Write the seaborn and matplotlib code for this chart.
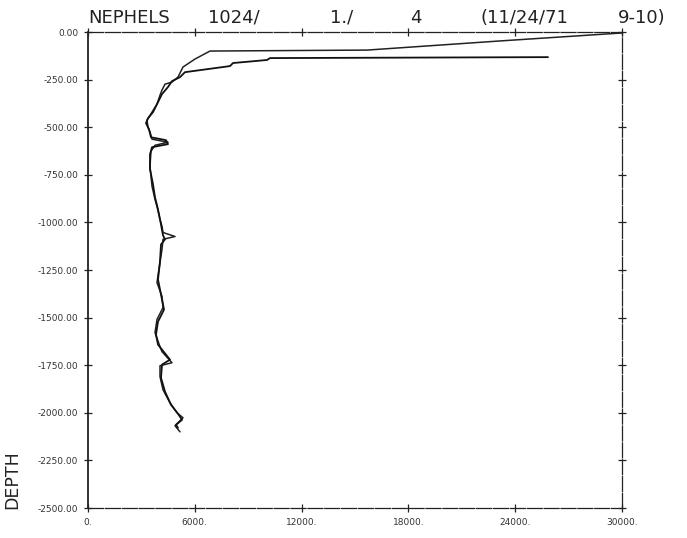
"""
Perfil de nefelómetro (NEPHELS) - recreación del gráfico de plotter antiguo
"""
import numpy as np
import pandas as pd
import matplotlib
matplotlib.use("Agg")
import matplotlib.pyplot as plt
import seaborn as sns

# Lance 1: baja hasta ~2100 m, llega a 30000 en superficie
cast1_value = [30000, 23146, 15674, 6854, 6011, 5337, 5056, 4719, 4326, 4157,
               4045, 3876, 3596, 3315, 3371, 3483, 3596, 4494, 3764,
               3539, 3483, 3596, 3764, 3876, 4045, 4157, 4214, 4888, 4214,
               4157, 4045, 3876, 4157, 4214, 3876, 3764, 4045, 4157, 4719,
               4045, 4045, 4214, 4607, 5000, 5337, 4888, 5169]
cast1_depth = [-5, -47, -95, -100, -142, -184, -237, -263, -274, -305,
               -332, -379, -421, -463, -500, -526, -563, -579, -595,
               -626, -705, -810, -879, -916, -984, -1021, -1053, -1074, -1089,
               -1142, -1210, -1316, -1389, -1447, -1510, -1579, -1653, -1679, -1737,
               -1753, -1810, -1879, -1947, -2000, -2026, -2068, -2100]

# Lance 2: termina en ~25800 cerca de -130 m
cast2_value = [25843, 10225, 10056, 8146, 7978, 5449, 5169, 4719, 4494,
               4157, 3876, 3652, 3371, 3258, 3427, 3539, 4382, 4494, 3596,
               3483, 3483, 3652, 3764, 3933, 4101, 4214, 4326, 4101, 4045,
               3933, 4101, 4270, 3933, 3820, 3933, 4607, 4157, 4101, 4326,
               4663, 5056, 5281, 4944, 5056]
cast2_depth = [-132, -137, -147, -163, -179, -211, -237, -258, -289,
               -326, -379, -421, -453, -479, -511, -553, -568, -589, -605,
               -642, -721, -800, -868, -932, -1011, -1068, -1089, -1116, -1205,
               -1300, -1379, -1458, -1521, -1589, -1642, -1721, -1747, -1816, -1889,
               -1958, -2005, -2037, -2063, -2079]

x_ticks = [0, 6000, 12000, 18000, 24000, 30000]
y_ticks = [0, -250, -500, -750, -1000, -1250, -1500, -1750, -2000, -2250, -2500]

title_parts = ["NEPHELS", "1024/", "1./", "4", "(11/24/71", "9-10)"]
title_x = [88, 208, 330, 410, 480, 618]

df1 = pd.DataFrame({"value": cast1_value, "depth": cast1_depth})
df2 = pd.DataFrame({"value": cast2_value, "depth": cast2_depth})

sns.set_style("white")
plt.rcParams['font.family'] = ['DejaVu Sans']

fig = plt.figure(figsize=(6.87, 5.38), dpi=100)
ax = fig.add_axes([88 / 687, 30 / 538, 534 / 687, 476 / 538])

sns.lineplot(data=df1, x="value", y="depth", sort=False, estimator=None,
             color="#222222", lw=1.1, ax=ax)
sns.lineplot(data=df2, x="value", y="depth", sort=False, estimator=None,
             color="#111111", lw=1.3, ax=ax)

ax.set_xlim(0, 30000)
ax.set_ylim(-2500, 0)
ax.set_xticks(x_ticks)
ax.set_xticklabels([f"{t}." for t in x_ticks], fontsize=6.5, color="#333333")
ax.set_yticks(y_ticks)
ax.set_yticklabels([f"{t:.2f}" for t in y_ticks], fontsize=6.5, color="#333333")
ax.tick_params(axis="both", direction="inout", length=6, width=0.9, color="#222222",
               top=True, right=True, bottom=True, left=True, pad=4)
ax.set_xlabel("")
ax.set_ylabel("")

for side, spine in ax.spines.items():
    spine.set_visible(True)
    spine.set_color("#222222")
    if side == "left":
        spine.set_linewidth(1.3)
    else:
        spine.set_linewidth(0.9)
        spine.set_linestyle((0, (12, 1.5)))

# Título en estilo plotter
for txt, px in zip(title_parts, title_x):
    fig.text(px / 687, 1 - 18 / 538, txt, fontsize=13, ha="left", va="center",
             color="#222222")

fig.text(12 / 687, 1 - 480 / 538, "DEPTH", rotation=90, fontsize=12.5,
         ha="center", va="center", color="#222222")

fig.savefig("out.png", dpi=100)
plt.close(fig)
